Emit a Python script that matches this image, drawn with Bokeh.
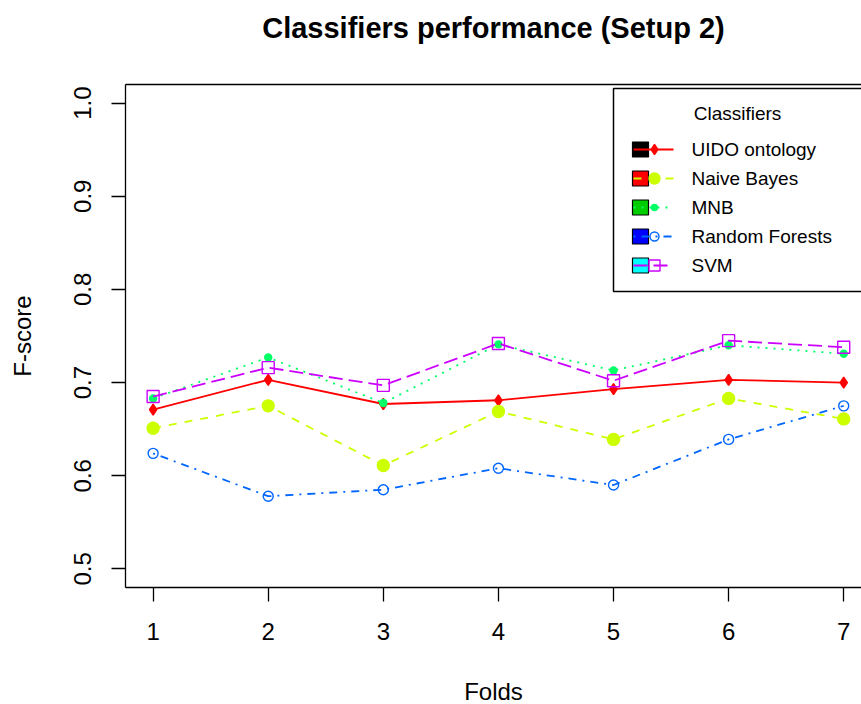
from bokeh.plotting import figure
from bokeh.models import Range1d, LinearAxis, FixedTicker
from bokeh.core.properties import value
from bokeh.embed import file_html
from bokeh.resources import INLINE

# ---- data ----
folds = [1, 2, 3, 4, 5, 6, 7]
uido = [0.671, 0.703, 0.677, 0.681, 0.693, 0.703, 0.700]
naive_bayes = [0.651, 0.675, 0.611, 0.669, 0.639, 0.683, 0.661]
mnb = [0.683, 0.727, 0.678, 0.741, 0.713, 0.740, 0.731]
random_forests = [0.624, 0.578, 0.585, 0.608, 0.590, 0.639, 0.675]
svm = [0.685, 0.716, 0.697, 0.742, 0.702, 0.745, 0.738]
names = ["UIDO ontology", "Naive Bayes", "MNB", "Random Forests", "SVM"]
y_ticks = [0.5, 0.6, 0.7, 0.8, 0.9, 1.0]
y_tick_labels = ["0.5", "0.6", "0.7", "0.8", "0.9", "1.0"]
series = [uido, naive_bayes, mnb, random_forests, svm]
title_text = "Classifiers performance (Setup 2)"

# ---- styles ----
line_colors = ["#FF0000", "#CCFF00", "#00FF66", "#0066FF", "#CC00FF"]
box_colors = ["#000000", "#FF0000", "#00CD00", "#0000FF", "#00FFFF"]
dashes = ["solid", "8 8", "2 6", "2 6 8 6", "14 6"]
markers = ["diamond", "circle", "circle", "circle", "square"]
msizes = [11, 12, 7, 10, 12]
mfill = [True, True, True, False, False]
FONT = "Liberation Sans"

W, H = 861, 704
FL, FT, FB = 125, 84, 587
FW, FH = W - FL, FB - FT
X0, XPX = 0.76, 115.1
X1 = X0 + FW / XPX
Y0, Y1 = 0.48, 1.02


def dx(px):
    return X0 + (px - FL) / XPX


def dy(py):
    return Y1 - (py - FT) * (Y1 - Y0) / FH


p = figure(frame_width=FW, frame_height=FH,
           x_range=Range1d(X0, X1), y_range=Range1d(Y0, Y1),
           output_backend="svg", toolbar_location=None,
           min_border_left=FL, min_border_right=0, min_border_top=FT,
           min_border_bottom=H - FB,
           x_axis_label="Folds", y_axis_label="F-score")
p.outline_line_color = None
p.background_fill_color = "white"
p.border_fill_color = "white"
p.xgrid.visible = False
p.ygrid.visible = False

xax = p.below[0]
yax = p.left[0]

for ax in (xax, yax):
    ax.axis_line_color = "#000000"
    ax.axis_line_width = 1.3
    ax.major_tick_line_color = "#000000"
    ax.major_tick_line_width = 1.3
    ax.major_tick_out = 14
    ax.major_tick_in = 0
    ax.minor_tick_line_color = None
    ax.major_label_text_font = FONT
    ax.major_label_text_font_size = "24px"
    ax.major_label_text_color = "#000000"
    ax.axis_label_text_font = FONT
    ax.axis_label_text_font_size = "24px"
    ax.axis_label_text_font_style = "normal"
    ax.axis_label_text_color = "#000000"

xax.ticker = folds
xax.major_label_standoff = 21
xax.axis_label_standoff = 35
yax.ticker = y_ticks
yax.major_label_overrides = {v: s for v, s in zip(y_ticks, y_tick_labels)}
yax.major_label_orientation = "parallel"
yax.major_label_standoff = 20
yax.axis_label_standoff = 36

# top axis: draws the upper border of the box and carries the main title
top = LinearAxis(ticker=FixedTicker(ticks=[]), axis_label=title_text)
top.axis_line_color = "#000000"
top.axis_line_width = 1.3
top.major_tick_line_color = None
top.minor_tick_line_color = None
top.major_tick_out = 0
top.major_tick_in = 0
top.major_label_standoff = 0
top.axis_label_standoff = 41
top.axis_label_text_font = FONT
top.axis_label_text_font_size = "29px"
top.axis_label_text_font_style = "bold"
top.axis_label_text_color = "#000000"
p.add_layout(top, "above")

for i, vals in enumerate(series):
    p.line(folds, vals, line_color=line_colors[i], line_width=1.8, line_dash=dashes[i])
    p.scatter(folds, vals, marker=markers[i], size=msizes[i],
              line_color=line_colors[i], line_width=1.4,
              fill_color=line_colors[i] if mfill[i] else None)

# ---- legend (R style) ----
p.quad(left=[dx(613)], right=[dx(880)], top=[dy(88)], bottom=[dy(291)],
       fill_color="white", line_color="#000000", line_width=1.5)
p.text(x=[dx(737)], y=[dy(113)], text=["Classifiers"], text_font=value(FONT),
       text_font_size="19px", text_align="center", text_baseline="middle",
       text_color="#000000")
for i, name in enumerate(names):
    ypx = 149 + 29 * i
    yy = dy(ypx)
    p.quad(left=[dx(632)], right=[dx(648)], top=[dy(ypx - 7.5)], bottom=[dy(ypx + 7.5)],
           fill_color=box_colors[i], line_color="#000000", line_width=1.2)
    p.line([dx(633), dx(673)], [yy, yy], line_color=line_colors[i], line_width=1.8,
           line_dash=dashes[i])
    p.scatter([dx(654)], [yy], marker=markers[i], size=msizes[i] - 1,
              line_color=line_colors[i], line_width=1.4,
              fill_color=line_colors[i] if mfill[i] else None)
    p.text(x=[dx(691)], y=[yy], text=[name], text_font=value(FONT),
           text_font_size="19px", text_align="left", text_baseline="middle",
           text_color="#000000")

open("out.html", "w").write(file_html(p, INLINE))
